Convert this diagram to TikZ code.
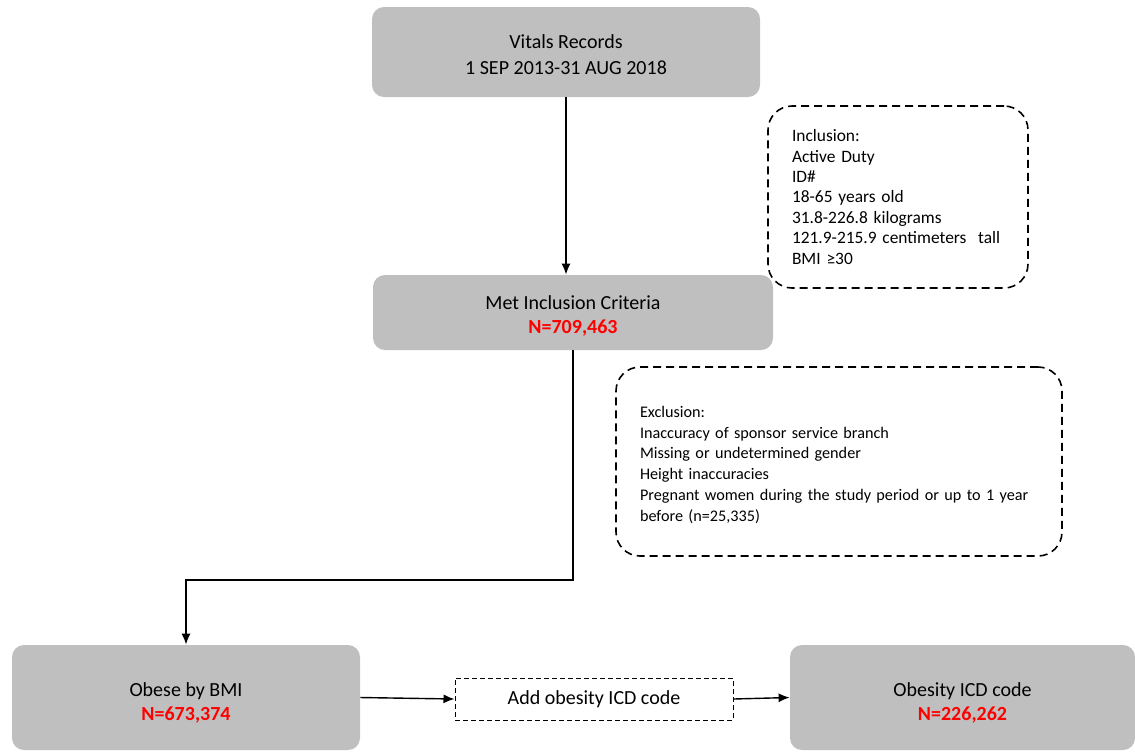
\documentclass[tikz,border=0pt]{standalone}
\usepackage{fontspec}
\setmainfont{Carlito}
\usepackage{tikz}
\usetikzlibrary{arrows.meta}
\definecolor{boxgray}{HTML}{BFBFBF}
\newcommand{\nval}[1]{\textcolor{red}{\textbf{#1}}}
\newcommand{\topgap}[1]{\rule{0pt}{#1}}

\begin{document}
\begin{tikzpicture}[x=0.5pt,y=-0.5pt,
  graybox/.style={fill=boxgray, rounded corners=6pt, align=center, inner sep=0pt, font=\fontsize{10}{12}\selectfont},
  notebox/.style={draw, line width=0.8pt, dash pattern=on 4pt off 2.5pt, rounded corners=12pt, align=left, inner xsep=12pt, inner ysep=0pt},
  flow/.style={-{Latex[length=5.5pt,width=4.5pt]}, line width=0.7pt}]
  \useasboundingbox (0,0) rectangle (1135,752);
  % main boxes
  \node [graybox, font=\fontsize{10}{13}\selectfont, minimum width=194pt, minimum height=45pt] (vitals) at (566,52) {\topgap{9.5pt}Vitals Records\\1 SEP 2013-31 AUG 2018};
  \node [graybox, minimum width=200pt, minimum height=37.5pt] (met) at (573,312.5) {\topgap{10pt}Met Inclusion Criteria\\\nval{N=709,463}};
  \node [graybox, minimum width=174pt, minimum height=52.5pt] (obese) at (186,697.5) {\topgap{12.5pt}Obese by BMI\\\nval{N=673,374}};
  \node [graybox, minimum width=172.5pt, minimum height=52.5pt] (icd) at (962.5,697.5) {\topgap{12.5pt}Obesity ICD code\\\nval{N=226,262}};
  \node [draw, dash pattern=on 2.5pt off 1.5pt, line width=0.5pt, minimum width=139pt, minimum height=21pt, font=\fontsize{10}{12}\selectfont] (add) at (594,699) {Add obesity ICD code};
  % criteria notes
  \node [notebox, font=\fontsize{8.7}{10.2}\selectfont, text width=106pt, minimum height=91pt] (incl) at (898,197) {Inclusion:\\Active Duty\\ID\#\\18-65 years old\\31.8-226.8 kilograms\\121.9-215.9 centimeters\ \ tall\\BMI ≥30};
  \node [notebox, font=\fontsize{8.1}{10.4}\selectfont, text width=199pt, minimum height=94.5pt] (excl) at (839,461.5) {\topgap{9pt}Exclusion:\\Inaccuracy of sponsor service branch\\Missing or undetermined gender\\Height inaccuracies\\Pregnant women during the study period or up to 1 year\\before (n=25,335)};
  % connectors
  \coordinate (turn) at (572,580);
  \draw [flow] (vitals.south) -- (vitals.south |- met.north);
  \draw [flow] (met.south) -- (met.south |- turn) -| (obese.north);
  \draw [flow] (obese.east) -- (add.west);
  \draw [flow] (add.east) -- (icd.west);
\end{tikzpicture}
\end{document}
